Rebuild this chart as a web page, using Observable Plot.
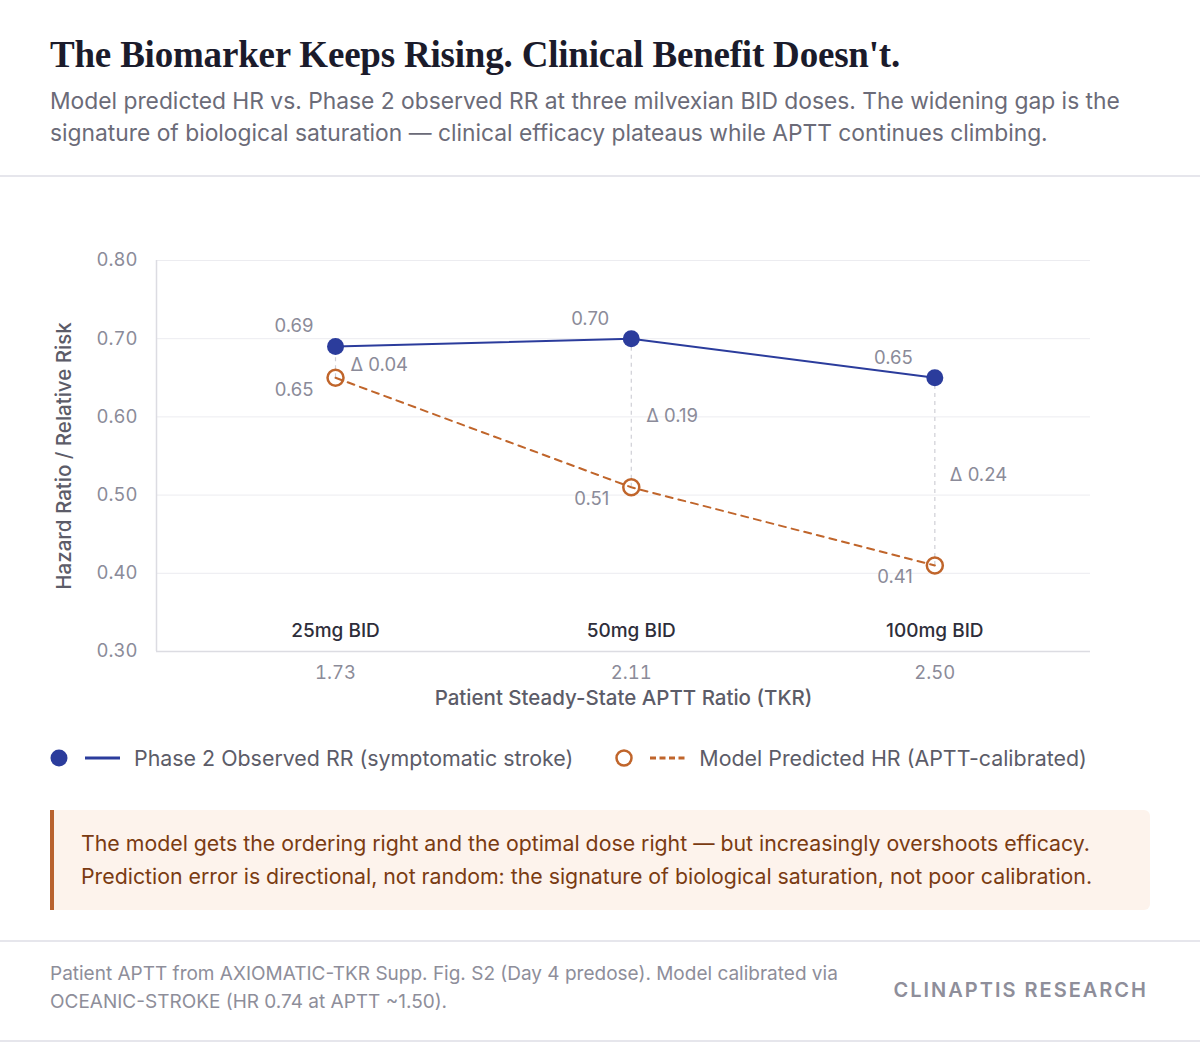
<!DOCTYPE html>
<html>
<head>
<meta charset="utf-8">
<script src="https://cdn.jsdelivr.net/npm/d3@7"></script>
<script src="https://cdn.jsdelivr.net/npm/@observablehq/plot@0.6"></script>
<style>
  html, body { margin: 0; padding: 0; background: #ffffff; }
  body { font-family: Inter, "Noto Sans", sans-serif; }
  #page { position: relative; width: 1200px; height: 1043px; overflow: hidden; }
  .abs { position: absolute; }
  #title { left: 50px; top: 34px; font-family: "Liberation Serif", serif; font-weight: 700; font-size: 37px; line-height: 42px; color: #1b1b2b; letter-spacing: -0.2px; white-space: nowrap; }
  #subtitle { left: 50px; top: 85px; width: 1100px; font-size: 22.8px; line-height: 32px; color: #6b6b78; }
  .rule { left: 0; width: 1200px; height: 2px; background: #e6e6ec; }
  #chart { left: 0; top: 190px; }
  #legend { left: 50px; top: 744px; height: 28px; display: flex; align-items: center; font-size: 21.4px; color: #5c5c68; white-space: nowrap; }
  #legend .item { display: flex; align-items: center; }
  #legend svg { display: block; }
  #callout { left: 50px; top: 810px; width: 1100px; height: 100px; box-sizing: border-box; background: #fdf3ec; border-left: 4px solid #b9622e; border-radius: 0 6px 6px 0; padding: 17px 0 0 27px; font-size: 21.3px; line-height: 33px; color: #7a3b12; white-space: nowrap; }
  #source { left: 50px; top: 960px; width: 860px; font-size: 19px; line-height: 28px; color: #8e8e9a; white-space: nowrap; }
  #brand { right: 52px; top: 976px; font-size: 20px; line-height: 28px; font-weight: 600; letter-spacing: 2px; color: #8e8e9a; }
</style>
</head>
<body>
<div id="page">
  <div id="title" class="abs">The Biomarker Keeps Rising. Clinical Benefit Doesn't.</div>
  <div id="subtitle" class="abs">Model predicted HR vs. Phase 2 observed RR at three milvexian BID doses. The widening gap is the signature of biological saturation — clinical efficacy plateaus while APTT continues climbing.</div>
  <div class="abs rule" style="top:175px"></div>
  <div id="chart" class="abs"></div>
  <div id="legend" class="abs"></div>
  <div id="callout" class="abs">The model gets the ordering right and the optimal dose right — but increasingly overshoots efficacy.<br>Prediction error is directional, not random: the signature of biological saturation, not poor calibration.</div>
  <div class="abs rule" style="top:940px"></div>
  <div id="source" class="abs">Patient APTT from AXIOMATIC-TKR Supp. Fig. S2 (Day 4 predose). Model calibrated via<br>OCEANIC-STROKE (HR 0.74 at APTT ~1.50).</div>
  <div id="brand" class="abs">CLINAPTIS RESEARCH</div>
  <div class="abs rule" style="top:1040px"></div>
</div>
<script>
// Dose levels, patient APTT ratio at each, and the two risk series
const doses = ["25mg BID", "50mg BID", "100mg BID"];
const aptt = [1.73, 2.11, 2.50];
const observedRR = [0.69, 0.70, 0.65];
const predictedHR = [0.65, 0.51, 0.41];
const yTicks = [0.30, 0.40, 0.50, 0.60, 0.70, 0.80];

const blue = "#2b3c9c";
const orange = "#c0652b";
const muted = "#8b8b99";
const numSize = 18.5;

const rows = doses.map((dose, i) => ({
  dose,
  aptt: aptt[i],
  obs: observedRR[i],
  pred: predictedHR[i],
  gap: observedRR[i] - predictedHR[i]
}));

const fmt = d3.format(".2f");

const chart = Plot.plot({
  width: 1200,
  height: 530,
  marginTop: 70,
  marginBottom: 69,
  marginLeft: 156,
  marginRight: 110,
  style: { fontFamily: "Inter, 'Noto Sans', sans-serif", background: "transparent", overflow: "visible" },
  x: { domain: [1.5, 2.7] },
  y: { domain: [0.3, 0.8] },
  marks: [
    Plot.gridY(yTicks.filter(t => t > 0.3), { stroke: "#ececf0", strokeOpacity: 1, strokeWidth: 1 }),
    Plot.ruleY([0.3], { stroke: "#dcdce2", strokeWidth: 1.5 }),
    Plot.ruleX([1.5], { stroke: "#dcdce2", strokeWidth: 1.5 }),
    Plot.axisY({ ticks: yTicks, tickFormat: fmt, tickSize: 0, tickPadding: 19, fontSize: numSize, fill: muted, label: null }),
    Plot.axisX({ ticks: aptt, tickFormat: fmt, tickSize: 0, tickPadding: 14, fontSize: numSize, fill: muted, label: null }),
    // axis titles
    Plot.text(["Hazard Ratio / Relative Risk"], { frameAnchor: "left", textAnchor: "middle", rotate: -90, dx: -92, fontSize: 20.5, fill: "#5c5c68", fontWeight: 500 }),
    Plot.text(["Patient Steady-State APTT Ratio (TKR)"], { frameAnchor: "bottom", dy: 53, fontSize: 20.5, fill: "#5c5c68", fontWeight: 500 }),
    // dose names along the baseline
    Plot.text(rows, { x: "aptt", frameAnchor: "bottom", dy: -15, text: "dose", fontSize: 19, fill: "#2e2e3a", fontWeight: 500 }),
    // gap connectors between observed and predicted
    Plot.ruleX(rows, { x: "aptt", y1: "pred", y2: "obs", stroke: "#cfcfd6", strokeWidth: 1.2, strokeDasharray: "4,4" }),
    Plot.line(rows, { x: "aptt", y: "pred", stroke: orange, strokeWidth: 2, strokeDasharray: "7,6" }),
    Plot.line(rows, { x: "aptt", y: "obs", stroke: blue, strokeWidth: 2 }),
    Plot.dot(rows, { x: "aptt", y: "pred", r: 8, fill: "none", stroke: orange, strokeWidth: 2.5 }),
    Plot.dot(rows, { x: "aptt", y: "obs", r: 8.5, fill: blue }),
    // value labels
    Plot.text(rows, { x: "aptt", y: "obs", text: d => fmt(d.obs), textAnchor: "end", dx: -22, dy: -20, fontSize: numSize, fill: muted }),
    Plot.text(rows, { x: "aptt", y: "pred", text: d => fmt(d.pred), textAnchor: "end", dx: -22, dy: 12, fontSize: numSize, fill: muted }),
    Plot.text(rows, { x: "aptt", y: d => (d.obs + d.pred) / 2, text: d => "Δ " + fmt(d.gap), textAnchor: "start", dx: 15, dy: 3, fontSize: numSize, fill: muted })
  ]
});
document.getElementById("chart").appendChild(chart);

// Legend: filled dot + solid line for observed, ring + dashed line for predicted
const legend = document.getElementById("legend");
const entries = [
  { label: "Phase 2 Observed RR (symptomatic stroke)", color: blue, filled: true, dash: null, gap: 0 },
  { label: "Model Predicted HR (APTT-calibrated)", color: orange, filled: false, dash: "6,3.5", gap: 42 }
];
entries.forEach(e => {
  const item = document.createElement("div");
  item.className = "item";
  item.style.marginLeft = e.gap + "px";
  const s = d3.create("svg").attr("width", 84).attr("height", 24);
  s.append("circle").attr("cx", 9).attr("cy", 12).attr("r", e.filled ? 8.5 : 7.5)
    .attr("fill", e.filled ? e.color : "none").attr("stroke", e.color).attr("stroke-width", e.filled ? 0 : 2.5);
  s.append("line").attr("x1", 35).attr("x2", 70).attr("y1", 12).attr("y2", 12)
    .attr("stroke", e.color).attr("stroke-width", 3).attr("stroke-dasharray", e.dash);
  item.appendChild(s.node());
  const t = document.createElement("span");
  t.textContent = e.label;
  item.appendChild(t);
  legend.appendChild(item);
});
</script>
</body>
</html>
